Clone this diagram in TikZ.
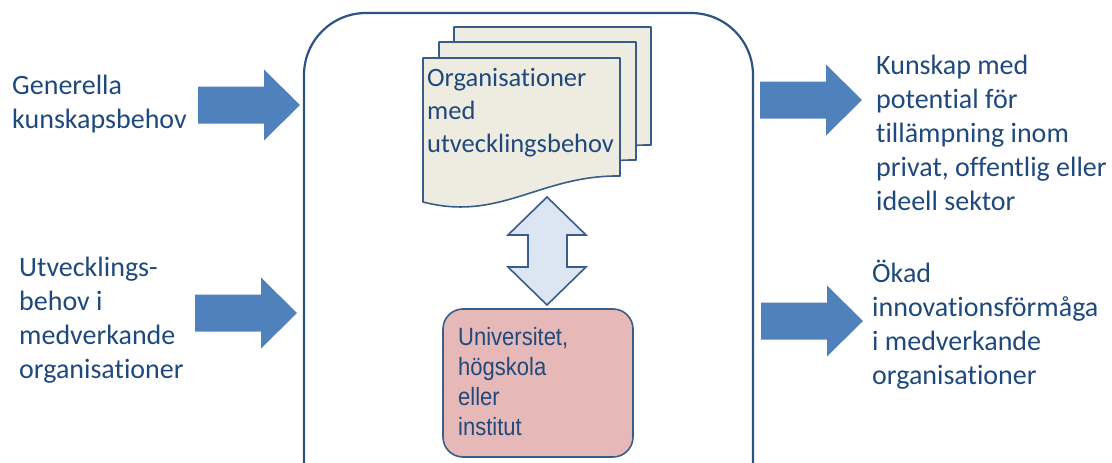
\documentclass[tikz,border=0pt]{standalone}
\usepackage{fontspec}
\setmainfont{Carlito}[Ligatures=NoCommon]
\newfontfamily\narrowfont[FakeStretch=0.88]{Liberation Sans}
\definecolor{txtblue}{HTML}{1F497D}
\definecolor{frameblue}{HTML}{2C5384}
\definecolor{lineblue}{HTML}{385D8A}
\definecolor{arrowblue}{HTML}{4F81BD}
\definecolor{arrowpale}{HTML}{DCE6F2}
\definecolor{docfill}{HTML}{EEECE1}
\definecolor{pinkfill}{HTML}{E6B9B8}
\tikzset{
  bigarrow/.style={fill=arrowblue},
  docpage/.style={fill=docfill, draw=lineblue, line width=1.6pt, line join=round},
  sidetext/.style={anchor=north west, inner sep=0pt, align=left, text=txtblue,
    font=\fontsize{28}{34}\selectfont}
}
% block arrow with its tip at (#1,#2)
\newcommand{\bigarrowat}[2]{%
  \fill[bigarrow, shift={(#1,#2)}] (-102,-18.5) -- (-36,-18.5) -- (-36,-35.5) -- (0,0)
    -- (-36,35.5) -- (-36,18.5) -- (-102,18.5) -- cycle;}
% one page of the document stack, shifted by (#1,#2)
\newcommand{\docpageat}[2]{%
  \filldraw[docpage, shift={(#1,#2)}] (423,58) -- (620,58) -- (620,176)
    .. controls (540,175) and (500,222) .. (423,202) -- cycle;}
\begin{document}
\begin{tikzpicture}[x=1pt,y=-1pt]
  \useasboundingbox (0,0) rectangle (1112,463);
  \clip (0,0) rectangle (1112,463);
  % frame
  \draw[line width=2.2pt, draw=frameblue, rounded corners=62pt] (304,13) rectangle (753,530);
  % in and out arrows
  \bigarrowat{300}{105}
  \bigarrowat{297}{313}
  \bigarrowat{862}{100}
  \bigarrowat{863}{321}
  % texts left and right
  \node[sidetext] (genneed) at (12,75) {Generella\\kunskapsbehov};
  \node[sidetext] (devneed) at (19,257) {Utvecklings-\\behov i\\medverkande\\organisationer};
  \node[sidetext] (knowout) at (876,55) {Kunskap med\\potential för\\tillämpning inom\\privat, offentlig eller\\ideell sektor};
  \node[sidetext] (innovout) at (872,260) {Ökad\\innovationsförmåga\\i medverkande\\organisationer};
  % document stack
  \docpageat{31}{-31}
  \docpageat{16}{-16}
  \docpageat{0}{0}
  \node[sidetext, font=\fontsize{26.5}{33}\selectfont] (orgs) at (427,68) {Organisationer\\med\\utvecklingsbehov};
  % two-way arrow
  \filldraw[fill=arrowpale, draw=lineblue, line width=1.6pt] (547,197) -- (586,235) -- (567,235)
    -- (567,267) -- (586,267) -- (547,305) -- (508,267) -- (528,267) -- (528,235) -- (508,235) -- cycle;
  % university box
  \filldraw[fill=pinkfill, draw=lineblue, line width=1.6pt, rounded corners=20pt] (443,309) rectangle (633,457);
  \node[sidetext, font=\narrowfont\fontsize{25}{30}\selectfont] (univ) at (458,327) {Universitet,\\högskola\\eller\\institut};
\end{tikzpicture}
\end{document}
